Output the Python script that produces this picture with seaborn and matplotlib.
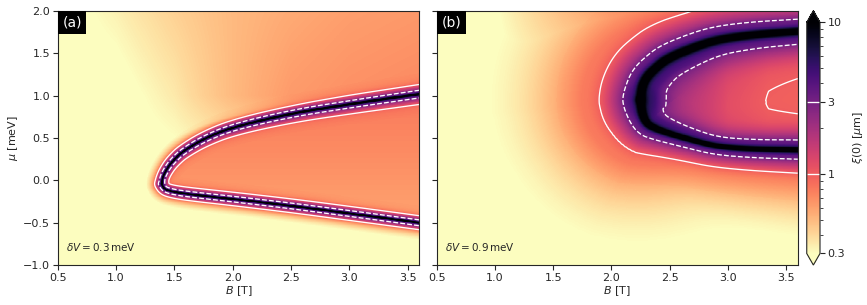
import numpy as np
import matplotlib
matplotlib.use("Agg")
import matplotlib.pyplot as plt
from matplotlib.colors import LogNorm
from matplotlib.ticker import NullFormatter
import seaborn as sns

sns.set_style("ticks")
plt.rcParams['font.family'] = ['DejaVu Sans']
plt.rcParams['font.size'] = 8
plt.rcParams['mathtext.fontset'] = 'dejavusans'

# plot ranges and the pixel scale of the panels (ridge widths are in px)
B_LIM = (0.5, 3.6)
MU_LIM = (-1.0, 2.0)
PX_PER_T = 116.7
PX_PER_MEV = 84.7

XI_FLOOR = 0.25     # xi deep in the trivial region [um]

# cross-section of the ridge read across the tip in (b): extra xi against distance / width
ridge_x = [0.0, 0.1, 0.2, 0.3, 0.45, 0.727, 1.0, 1.36, 1.82, 2.5, 4.0]
ridge_xi = [19.0, 12.0, 7.5, 4.4, 3.0, 2.3, 1.3, 0.72, 0.30, 0.08, 0.01]

# ---- panel (a), dV = 0.3 meV ----
# gap-closing line (black ridge): upper and lower branch and its width in px
a_up_B = [1.39, 1.40, 1.45, 1.50, 1.57, 1.75, 2.00, 2.50, 3.00, 3.60, 3.70]
a_up_mu = [-0.04, 0.05, 0.17, 0.25, 0.34, 0.49, 0.63, 0.79, 0.90, 1.02, 1.04]
a_up_w = [3.8, 3.8, 3.9, 4.0, 4.1, 4.3, 4.5, 4.8, 5.0, 5.2, 5.2]
a_lo_B = [1.39, 1.41, 1.47, 1.60, 2.00, 2.50, 3.00, 3.60, 3.70]
a_lo_mu = [-0.04, -0.10, -0.13, -0.16, -0.22, -0.30, -0.39, -0.50, -0.52]
a_lo_w = [3.8, 3.8, 3.8, 3.9, 4.0, 4.1, 4.2, 4.2, 4.2]
# xi inside the topological region, against mu
a_in_mu = [-0.5, 1.0]
a_in_xi = [0.58, 0.80]
# xi outside, on a coarse (mu, B) grid
bg_B = [0.5, 1.0, 1.5, 2.0, 2.5, 3.0, 3.6]
bg_mu = [-1.0, 0.0, 1.0, 2.0]
a_bg_xi = [[0.25, 0.25, 0.25, 0.25, 0.25, 0.25, 0.25],
           [0.25, 0.25, 0.25, 0.25, 0.25, 0.25, 0.25],
           [0.25, 0.26, 0.35, 0.50, 0.63, 0.68, 0.71],
           [0.26, 0.33, 0.42, 0.50, 0.56, 0.61, 0.64]]
a_halo_xi, a_halo_reach = 0.66, 2.4

# ---- panel (b), dV = 0.9 meV ----
b_up_B = [2.25, 2.26, 2.30, 2.38, 2.48, 2.70, 2.90, 3.20, 3.60, 3.70]
b_up_mu = [0.95, 1.10, 1.22, 1.33, 1.44, 1.57, 1.66, 1.72, 1.76, 1.77]
b_up_w = [21.0, 21.0, 20.8, 20.4, 20.0, 19.2, 18.5, 17.5, 16.5, 16.5]
b_lo_B = [2.25, 2.26, 2.30, 2.38, 2.48, 2.70, 2.90, 3.20, 3.60, 3.70]
b_lo_mu = [0.95, 0.80, 0.67, 0.61, 0.56, 0.47, 0.40, 0.37, 0.36, 0.355]
b_lo_w = [21.0, 20.0, 17.5, 15.0, 13.4, 11.8, 11.3, 11.8, 12.8, 12.8]
b_in_B = [2.25, 2.5, 3.0, 3.35, 3.6]
b_in_xi = [2.0, 1.85, 1.15, 0.975, 0.95]
b_bg_xi = [[0.25, 0.25, 0.25, 0.25, 0.25, 0.25, 0.25],
           [0.25, 0.25, 0.25, 0.25, 0.25, 0.25, 0.25],
           [0.25, 0.26, 0.32, 0.42, 0.50, 0.55, 0.55],
           [0.25, 0.29, 0.45, 0.62, 0.70, 0.74, 0.77]]
b_halo_xi, b_halo_reach = 0.72, 4.0

panel_labels = ['(a)', '(b)']
dV_labels = [r'$\delta V = 0.3\,\mathrm{meV}$', r'$\delta V = 0.9\,\mathrm{meV}$']

# evaluation grid
B_vals = np.linspace(B_LIM[0], B_LIM[1], 720)
mu_vals = np.linspace(MU_LIM[0], MU_LIM[1], 600)
BB, MM = np.meshgrid(B_vals, mu_vals)


def smooth_line(x, y, w, n_iter=3):
    # Chaikin corner cutting, ends kept
    p = np.column_stack([x, y, w]).astype(float)
    for _ in range(n_iter):
        q = 0.75 * p[:-1] + 0.25 * p[1:]
        r = 0.25 * p[:-1] + 0.75 * p[1:]
        mid = np.empty((2 * len(q), 3))
        mid[0::2], mid[1::2] = q, r
        p = np.vstack([p[:1], mid, p[-1:]])
    return p[:, 0], p[:, 1], p[:, 2]


def branch_distance(rB, rM, rW):
    X, Y = BB * PX_PER_T, MM * PX_PER_MEV
    px, py = rB * PX_PER_T, rM * PX_PER_MEV
    best = np.full(X.shape, np.inf)
    wbest = np.ones(X.shape)
    for i in range(len(px) - 1):
        dx, dy = px[i + 1] - px[i], py[i + 1] - py[i]
        t = np.clip(((X - px[i]) * dx + (Y - py[i]) * dy) / (dx * dx + dy * dy + 1e-12), 0, 1)
        d2 = (X - px[i] - t * dx) ** 2 + (Y - py[i] - t * dy) ** 2
        m = d2 < best
        best[m] = d2[m]
        wbest[m] = (rW[i] + t * (rW[i + 1] - rW[i]))[m]
    return np.sqrt(best), wbest


def grid_xi(grid):
    G = np.asarray(grid, dtype=float)
    rows = np.array([np.interp(B_vals, bg_B, G[k]) for k in range(len(bg_mu))])
    return np.array([np.interp(mu_vals, bg_mu, rows[:, j]) for j in range(len(B_vals))]).T


def xi_map(up_B, up_mu, up_w, lo_B, lo_mu, lo_w, xi_in, bg_xi, halo_xi, reach):
    excess, halos = [], []
    for b, m, w in [(up_B, up_mu, up_w), (lo_B, lo_mu, lo_w)]:
        d, ww = branch_distance(*smooth_line(b, m, w))
        excess.append(np.exp(np.interp(d / ww, ridge_x, np.log(ridge_xi), right=np.log(1e-4))))
        halos.append((halo_xi - XI_FLOOR) / (1 + (d / (reach * ww)) ** 4))
    E = (excess[0] ** 3 + excess[1] ** 3) ** (1 / 3)
    halo = XI_FLOOR + np.minimum((halos[0] ** 3 + halos[1] ** 3) ** (1 / 3), halo_xi - XI_FLOOR)
    up = np.interp(BB, *smooth_line(up_B, up_mu, up_w)[:2])
    lo = np.interp(BB, *smooth_line(lo_B, lo_mu, lo_w)[:2])
    inside = (BB > up_B[0]) & (MM < up) & (MM > lo)
    far = np.where(inside, xi_in, np.maximum(grid_xi(bg_xi), halo))
    return far + E


xi_a = xi_map(a_up_B, a_up_mu, a_up_w, a_lo_B, a_lo_mu, a_lo_w,
              np.interp(MM, a_in_mu, a_in_xi), a_bg_xi, a_halo_xi, a_halo_reach)
xi_b = xi_map(b_up_B, b_up_mu, b_up_w, b_lo_B, b_lo_mu, b_lo_w,
              np.interp(BB, b_in_B, b_in_xi), b_bg_xi, b_halo_xi, b_halo_reach)

cmap = sns.color_palette("magma_r", as_cmap=True)
norm = LogNorm(vmin=0.3, vmax=10)

fig = plt.figure(figsize=(8.67, 3.05), dpi=100)
ax_a = fig.add_axes([0.0666, 0.131, 0.4171, 0.8328])
ax_b = fig.add_axes([0.5037, 0.131, 0.4164, 0.8328], sharey=ax_a)
cax = fig.add_axes([0.9305, 0.131, 0.0153, 0.834])

for ax, xi, plabel, dlabel in zip([ax_a, ax_b], [xi_a, xi_b], panel_labels, dV_labels):
    mesh = ax.pcolormesh(B_vals, mu_vals, xi, cmap=cmap, norm=norm, shading='auto', rasterized=True)
    cs = ax.contour(B_vals, mu_vals, xi, levels=[1, 3], colors='white',
                    linestyles=['solid', 'dashed'], linewidths=0.95)
    ax.set_xlim(*B_LIM)
    ax.set_ylim(*MU_LIM)
    ax.set_xticks([0.5, 1.0, 1.5, 2.0, 2.5, 3.0, 3.5])
    ax.set_yticks([-1.0, -0.5, 0.0, 0.5, 1.0, 1.5, 2.0])
    ax.set_xlabel(r'$B$ [T]', labelpad=1)
    ax.tick_params(labelsize=8, length=3.5, width=0.8, pad=2)
    ax.annotate(plabel, xy=(0, 1), xycoords='axes fraction', xytext=(3.3, -3.3),
                textcoords='offset points', ha='left', va='top', color='white', fontsize=10,
                bbox=dict(facecolor='black', edgecolor='none', boxstyle='square,pad=0.33'))
    ax.text(0.024, 0.07, dlabel, transform=ax.transAxes, fontsize=7.5, va='center', ha='left')

ax_a.set_ylabel(r'$\mu$ [meV]', labelpad=2)
plt.setp(ax_b.get_yticklabels(), visible=False)

cb = fig.colorbar(mesh, cax=cax, extend='both')
cb.set_ticks([0.3, 1, 3, 10])
cb.set_ticklabels(['0.3', '1', '3', '10'])
cb.ax.yaxis.set_minor_formatter(NullFormatter())
cb.ax.tick_params(labelsize=8, length=3.5, width=0.8, pad=2)
cb.ax.tick_params(which='minor', length=2, width=0.6)
cb.set_label(r'$\xi(0)$ [$\mu$m]', fontsize=8, labelpad=4)
cb.add_lines(cs)
cb.outline.set_linewidth(0.8)

fig.savefig('out.png', dpi=100)
